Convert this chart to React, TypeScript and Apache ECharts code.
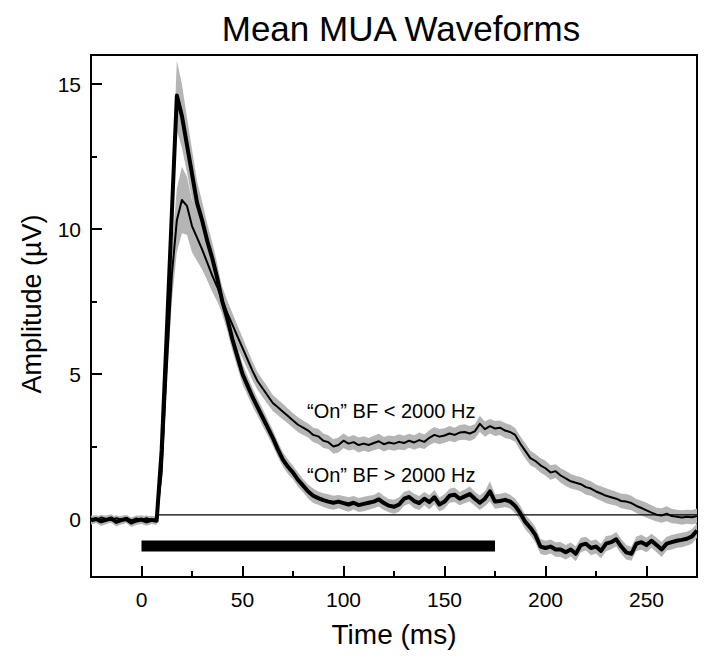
import React, { useEffect, useRef } from "react";
import * as echarts from "echarts";

const FONT = "'Liberation Sans', Arial, Helvetica, sans-serif";

// time axis (ms)
const timeMs = [
  -25, -22.5, -20, -17.5, -15, -12.5, -10, -7.5, -5, -2.5,
  0, 2.5, 5, 7.5, 10, 12.5, 15, 17.5, 20, 22.5,
  25, 27.5, 30, 32.5, 35, 37.5, 40, 42.5, 45, 47.5,
  50, 52.5, 55, 57.5, 60, 62.5, 65, 67.5, 70, 72.5,
  75, 77.5, 80, 82.5, 85, 87.5, 90, 92.5, 95, 97.5,
  100, 102.5, 105, 107.5, 110, 112.5, 115, 117.5, 120, 122.5,
  125, 127.5, 130, 132.5, 135, 137.5, 140, 142.5, 145, 147.5,
  150, 152.5, 155, 157.5, 160, 162.5, 165, 167.5, 170, 172.5,
  175, 177.5, 180, 182.5, 185, 187.5, 190, 192.5, 195, 197.5,
  200, 202.5, 205, 207.5, 210, 212.5, 215, 217.5, 220, 222.5,
  225, 227.5, 230, 232.5, 235, 237.5, 240, 242.5, 245, 247.5,
  250, 252.5, 255, 257.5, 260, 262.5, 265, 267.5, 270, 272.5,
  275,
];

// "On" BF > 2000 Hz (thick line), mean amplitude (µV)
const highBF = [
  -0.05, 0.0, -0.08, -0.03, 0.02, -0.1, -0.04, 0.0, -0.12, -0.05,
  -0.02, -0.08, -0.03, -0.06, 2.4, 6.4, 10.5, 14.6, 13.9, 12.9,
  11.9, 10.9, 10.3, 9.6, 9.0, 8.3, 7.5, 6.9, 6.2, 5.6,
  5.0, 4.6, 4.2, 3.85, 3.5, 3.15, 2.8, 2.4, 2.05, 1.8,
  1.6, 1.35, 1.15, 0.95, 0.8, 0.72, 0.65, 0.6, 0.56, 0.6,
  0.55, 0.5, 0.56, 0.48, 0.52, 0.56, 0.6, 0.68, 0.55, 0.46,
  0.42, 0.5, 0.7, 0.76, 0.62, 0.55, 0.7, 0.58, 0.75, 0.5,
  0.6, 0.8, 0.84, 0.7, 0.78, 0.86, 0.7, 0.56, 0.7, 0.95,
  0.6, 0.62, 0.66, 0.6, 0.45, 0.2, -0.1, -0.3, -0.55, -0.95,
  -1.0, -0.95, -1.05, -1.05, -1.15, -1.05, -1.2, -0.9, -0.85, -1.0,
  -0.95, -1.1, -0.85, -0.8, -0.7, -0.95, -1.15, -1.2, -0.85, -0.8,
  -0.9, -0.75, -0.9, -1.05, -0.85, -0.8, -0.75, -0.72, -0.68, -0.6,
  -0.4,
];
const highBFSem = [
  0.15, 0.14, 0.16, 0.15, 0.14, 0.16, 0.15, 0.14, 0.16, 0.15,
  0.15, 0.15, 0.14, 0.15, 0.35, 0.6, 0.9, 1.2, 1.1, 0.95,
  0.85, 0.75, 0.65, 0.6, 0.55, 0.5, 0.45, 0.42, 0.4, 0.38,
  0.35, 0.33, 0.32, 0.3, 0.3, 0.28, 0.27, 0.26, 0.25, 0.25,
  0.24, 0.25, 0.23, 0.24, 0.25, 0.23, 0.24, 0.25, 0.24, 0.23,
  0.24, 0.25, 0.23, 0.24, 0.25, 0.24, 0.23, 0.25, 0.24, 0.23,
  0.24, 0.25, 0.24, 0.23, 0.25, 0.24, 0.23, 0.24, 0.25, 0.24,
  0.25, 0.24, 0.25, 0.23, 0.24, 0.26, 0.24, 0.25, 0.26, 0.35,
  0.25, 0.24, 0.25, 0.24, 0.25, 0.26, 0.25, 0.26, 0.27, 0.26,
  0.25, 0.24, 0.25, 0.26, 0.25, 0.24, 0.26, 0.25, 0.24, 0.25,
  0.24, 0.25, 0.26, 0.24, 0.25, 0.26, 0.25, 0.24, 0.25, 0.26,
  0.25, 0.24, 0.25, 0.26, 0.24, 0.25, 0.24, 0.25, 0.24, 0.25,
  0.25,
];

// "On" BF < 2000 Hz (thin line), mean amplitude (µV)
const lowBF = [
  0.02, -0.03, 0.05, 0.0, -0.04, 0.03, -0.02, 0.04, -0.05, 0.02,
  -0.03, 0.03, -0.04, 0.0, 1.6, 5.2, 8.4, 10.3, 11.0, 10.8,
  10.1, 9.7, 9.3, 8.85, 8.4, 8.0, 7.55, 7.1, 6.7, 6.3,
  5.9, 5.5, 5.1, 4.75, 4.5, 4.25, 4.0, 3.85, 3.7, 3.55,
  3.4, 3.25, 3.15, 3.05, 2.9, 2.85, 2.7, 2.65, 2.5, 2.55,
  2.7, 2.6, 2.65, 2.55, 2.6, 2.55, 2.62, 2.68, 2.58, 2.64,
  2.6, 2.66, 2.62, 2.7, 2.64, 2.72, 2.66, 2.8, 2.9, 2.84,
  2.88, 2.95, 2.9, 2.98, 3.0, 2.95, 3.02, 3.28, 3.1, 3.2,
  3.12, 3.15, 3.05, 3.0, 2.9, 2.6, 2.35, 2.1, 2.0, 1.85,
  1.75, 1.6, 1.65, 1.5, 1.4, 1.3, 1.25, 1.2, 1.1, 1.05,
  0.95, 0.88, 0.8, 0.75, 0.7, 0.62, 0.6, 0.55, 0.45, 0.38,
  0.3, 0.22, 0.15, 0.12, 0.18, 0.1, 0.08, 0.05, 0.08, 0.06,
  0.1,
];
const lowBFSem = [
  0.1, 0.1, 0.1, 0.1, 0.1, 0.1, 0.1, 0.1, 0.1, 0.1,
  0.1, 0.1, 0.1, 0.1, 0.3, 0.6, 0.9, 1.1, 1.15, 1.0,
  0.9, 0.8, 0.7, 0.62, 0.56, 0.5, 0.46, 0.43, 0.4, 0.38,
  0.36, 0.34, 0.32, 0.3, 0.3, 0.29, 0.28, 0.27, 0.27, 0.26,
  0.25, 0.26, 0.25, 0.24, 0.25, 0.26, 0.25, 0.24, 0.25, 0.26,
  0.25, 0.24, 0.25, 0.26, 0.25, 0.24, 0.25, 0.26, 0.25, 0.24,
  0.25, 0.26, 0.25, 0.24, 0.25, 0.26, 0.25, 0.26, 0.27, 0.26,
  0.25, 0.26, 0.25, 0.26, 0.27, 0.26, 0.25, 0.28, 0.26, 0.25,
  0.26, 0.25, 0.26, 0.25, 0.24, 0.25, 0.26, 0.25, 0.24, 0.25,
  0.26, 0.25, 0.24, 0.25, 0.26, 0.25, 0.24, 0.25, 0.26, 0.25,
  0.24, 0.25, 0.26, 0.25, 0.24, 0.25, 0.26, 0.25, 0.24, 0.25,
  0.26, 0.25, 0.24, 0.25, 0.26, 0.25, 0.24, 0.25, 0.24, 0.25,
  0.25,
];

// stimulus bar (ms) and its level (µV)
const stimulusOn = [0, 175];
const stimulusLevel = -0.93;
// horizontal reference line
const refLineStart = 8;
const refLineEnd = 275;
const refLineLevel = 0.14;

// axes
const xMin = -25;
const xMax = 275;
const xMajorTicks = [0, 50, 100, 150, 200, 250];
const xMinorTicks = [25, 75, 125, 175, 225];
const yMin = -2;
const yMax = 16;
const yMajorTicks = [0, 5, 10, 15];
const yMinorTicks = [2.5, 7.5, 12.5];

const titleText = "Mean MUA Waveforms";
const xAxisName = "Time (ms)";
const yAxisName = "Amplitude (\u00b5V)";
const labelLow = "\u201cOn\u201d BF < 2000 Hz";
const labelHigh = "\u201cOn\u201d BF > 2000 Hz";

const BAND = "#b5b5b5";

function bandSeries(values: number[], sem: number[]) {
  return {
    type: "custom",
    silent: true,
    z: 1,
    clip: true,
    encode: { x: 0, y: [1, 2] },
    data: timeMs.map((t, i) => [t, values[i] - sem[i], values[i] + sem[i]]),
    renderItem: (params: any, api: any) => {
      if (params.dataIndex !== 0) return null;
      const upper: number[][] = [];
      const lower: number[][] = [];
      for (let i = 0; i < timeMs.length; i++) {
        upper.push(api.coord([timeMs[i], values[i] + sem[i]]));
        lower.push(api.coord([timeMs[i], values[i] - sem[i]]));
      }
      return {
        type: "polygon",
        shape: { points: upper.concat(lower.reverse()) },
        style: { fill: BAND, stroke: null },
      };
    },
  };
}

function makeXAxis(ticks: number[], len: number, labels: boolean) {
  return {
    type: "value",
    gridIndex: 0,
    position: "bottom",
    min: xMin,
    max: xMax,
    axisLine: { show: false, onZero: false },
    splitLine: { show: false },
    axisTick: {
      show: true,
      inside: true,
      length: len,
      customValues: ticks,
      lineStyle: { color: "#000", width: 2 },
    },
    axisLabel: labels
      ? { show: true, customValues: ticks, fontSize: 21, color: "#000", fontFamily: FONT, margin: 12 }
      : { show: false },
    ...(labels
      ? {
          name: xAxisName,
          nameLocation: "middle",
          nameGap: 43,
          nameTextStyle: { fontSize: 28, color: "#000", fontFamily: FONT },
        }
      : {}),
  };
}

function makeYAxis(ticks: number[], len: number, labels: boolean) {
  return {
    type: "value",
    gridIndex: 0,
    position: "left",
    min: yMin,
    max: yMax,
    axisLine: { show: false, onZero: false },
    splitLine: { show: false },
    axisTick: {
      show: true,
      inside: true,
      length: len,
      customValues: ticks,
      lineStyle: { color: "#000", width: 2 },
    },
    axisLabel: labels
      ? { show: true, customValues: ticks, fontSize: 21, color: "#000", fontFamily: FONT, margin: 10 }
      : { show: false },
  };
}

export default function App() {
  const ref = useRef<HTMLDivElement>(null);
  useEffect(() => {
    if (!ref.current) return;
    const chart = echarts.init(ref.current, null, { renderer: "svg" });
    const textStyle = (text: string, size: number, align: string) => ({
      text,
      fontSize: size,
      fontFamily: FONT,
      fill: "#000",
      textAlign: align,
      textVerticalAlign: "middle",
    });
    const option: any = {
      animation: false,
      backgroundColor: "#fff",
      grid: {
        left: 91,
        right: 7,
        top: 55,
        bottom: 81,
        show: true,
        borderColor: "#000",
        borderWidth: 2,
        backgroundColor: "transparent",
      },
      xAxis: [makeXAxis(xMajorTicks, 11, true), makeXAxis(xMinorTicks, 6, false)],
      yAxis: [makeYAxis(yMajorTicks, 11, true), makeYAxis(yMinorTicks, 6, false)],
      graphic: [
        { type: "text", x: 401, y: 28, style: textStyle(titleText, 35, "center") },
        { type: "text", x: 32, y: 304, rotation: Math.PI / 2, style: textStyle(yAxisName, 27, "center") },
        { type: "text", x: 307, y: 411, style: textStyle(labelLow, 20, "left") },
        { type: "text", x: 307, y: 475, style: textStyle(labelHigh, 20, "left") },
      ],
      series: [
        bandSeries(lowBF, lowBFSem),
        bandSeries(highBF, highBFSem),
        {
          type: "line",
          silent: true,
          z: 2,
          showSymbol: false,
          data: [
            [refLineStart, refLineLevel],
            [refLineEnd, refLineLevel],
          ],
          lineStyle: { color: "#000", width: 1.3 },
        },
        {
          type: "line",
          silent: true,
          z: 2,
          showSymbol: false,
          data: stimulusOn.map((t) => [t, stimulusLevel]),
          lineStyle: { color: "#000", width: 11, cap: "butt" },
        },
        {
          type: "line",
          silent: true,
          z: 3,
          showSymbol: false,
          data: timeMs.map((t, i) => [t, lowBF[i]]),
          lineStyle: { color: "#000", width: 2, join: "round" },
        },
        {
          type: "line",
          silent: true,
          z: 4,
          showSymbol: false,
          data: timeMs.map((t, i) => [t, highBF[i]]),
          lineStyle: { color: "#000", width: 4, join: "round" },
        },
      ],
    };
    chart.setOption(option);
    return () => chart.dispose();
  }, []);
  return (
    <div
      ref={ref}
      style={{ position: "fixed", left: 0, top: 0, width: 704, height: 658, background: "#fff" }}
    />
  );
}
